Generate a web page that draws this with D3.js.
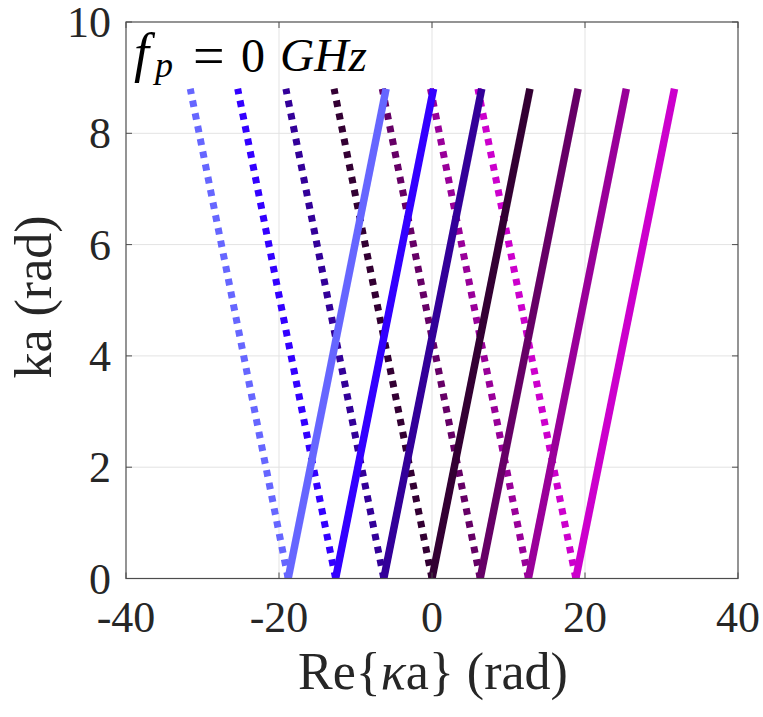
<!DOCTYPE html>
<html>
<head>
<meta charset="utf-8">
<script src="https://cdn.jsdelivr.net/npm/d3@7"></script>
<style>
  body { margin: 0; background: #fff; }
  svg { display: block; }
</style>
</head>
<body>
<div id="chart"></div>
<script>
// Данные
const kaRange = [0, 8.8];
const lineColors = ["#6666ff", "#3300ff", "#330099", "#330033", "#660066", "#990099", "#cc00cc"];
const solidBottom = [-18.8, -12.6, -6.3, 0, 6.3, 12.6, 18.8];
const solidTop = [-6.0, 0.2, 6.5, 12.8, 19.1, 25.4, 31.7];
const dottedBottom = [-18.8, -12.6, -6.3, 0, 6.3, 12.6, 18.8];
const dottedTop = [-31.6, -25.4, -19.1, -12.8, -6.5, -0.2, 6.0];
const xTicks = [-40, -20, 0, 20, 40];
const yTicks = [0, 2, 4, 6, 8, 10];

const serif = "'Liberation Serif', 'Times New Roman', Tinos, 'DejaVu Serif', serif";

const width = 763, height = 717;
const margin = { top: 22, right: 25, bottom: 138.5, left: 126 };
const w = width - margin.left - margin.right;
const h = height - margin.top - margin.bottom;

const svg = d3.select("#chart").append("svg")
    .attr("width", width)
    .attr("height", height);

const g = svg.append("g")
    .attr("transform", `translate(${margin.left},${margin.top})`);

const x = d3.scaleLinear().domain([-40, 40]).range([0, w]);
const y = d3.scaleLinear().domain([0, 10]).range([h, 0]);

// сетка
g.append("g").selectAll("line")
    .data(xTicks.slice(1, -1))
    .join("line")
    .attr("x1", d => x(d)).attr("x2", d => x(d))
    .attr("y1", 0).attr("y2", h)
    .attr("stroke", "#e3e3e3").attr("stroke-width", 1);
g.append("g").selectAll("line")
    .data(yTicks.slice(1, -1))
    .join("line")
    .attr("y1", d => y(d)).attr("y2", d => y(d))
    .attr("x1", 0).attr("x2", w)
    .attr("stroke", "#e3e3e3").attr("stroke-width", 1);

// линии
g.append("clipPath").attr("id", "clip")
    .append("rect").attr("width", w).attr("height", h);
const lines = g.append("g").attr("clip-path", "url(#clip)");
const line = d3.line().x(d => x(d[0])).y(d => y(d[1]));

const dotted = lineColors.map((c, i) => ({ c, pts: [[dottedBottom[i], kaRange[0]], [dottedTop[i], kaRange[1]]] }));
const solid = lineColors.map((c, i) => ({ c, pts: [[solidBottom[i], kaRange[0]], [solidTop[i], kaRange[1]]] }));

lines.selectAll(".dotted")
    .data(dotted)
    .join("path")
    .attr("class", "dotted")
    .attr("d", d => line(d.pts))
    .attr("fill", "none")
    .attr("stroke", d => d.c)
    .attr("stroke-width", 7)
    .attr("stroke-dasharray", "6.5,6.5");

lines.selectAll(".solid")
    .data(solid)
    .join("path")
    .attr("class", "solid")
    .attr("d", d => line(d.pts))
    .attr("fill", "none")
    .attr("stroke", d => d.c)
    .attr("stroke-width", 7.5);

// рамка и засечки
const axisColor = "#4d4d4d";
g.append("rect")
    .attr("width", w).attr("height", h)
    .attr("fill", "none").attr("stroke", axisColor).attr("stroke-width", 1.2);

const tickLen = 6;
xTicks.forEach(t => {
    g.append("line").attr("x1", x(t)).attr("x2", x(t)).attr("y1", h).attr("y2", h - tickLen)
        .attr("stroke", axisColor);
    g.append("line").attr("x1", x(t)).attr("x2", x(t)).attr("y1", 0).attr("y2", tickLen)
        .attr("stroke", axisColor);
    g.append("text")
        .attr("x", x(t)).attr("y", h + 53)
        .attr("text-anchor", "middle")
        .attr("font-family", serif)
        .attr("font-size", 44)
        .attr("fill", "#262626")
        .text(t);
});
yTicks.forEach(t => {
    g.append("line").attr("x1", 0).attr("x2", tickLen).attr("y1", y(t)).attr("y2", y(t))
        .attr("stroke", axisColor);
    g.append("line").attr("x1", w).attr("x2", w - tickLen).attr("y1", y(t)).attr("y2", y(t))
        .attr("stroke", axisColor);
    g.append("text")
        .attr("x", -15).attr("y", y(t) + 15)
        .attr("text-anchor", "end")
        .attr("font-family", serif)
        .attr("font-size", 44)
        .attr("fill", "#262626")
        .text(t);
});

// подписи осей
const xl = svg.append("text")
    .attr("x", 433).attr("y", 689)
    .attr("text-anchor", "middle")
    .attr("font-family", serif)
    .attr("font-size", 52)
    .attr("fill", "#262626");
xl.append("tspan").text("Re{");
xl.append("tspan").attr("font-style", "italic").text("κ");
xl.append("tspan").text("a} (rad)");

svg.append("text")
    .attr("transform", "translate(51,297) rotate(-90)")
    .attr("text-anchor", "middle")
    .attr("font-family", serif)
    .attr("font-size", 52)
    .attr("fill", "#262626")
    .text("ka (rad)");

// аннотация f_p = 0 GHz (отдельные куски, чтобы попасть в позиции)
const ann = svg.append("g")
    .attr("font-family", serif)
    .attr("fill", "#000");
ann.append("text").attr("x", 134).attr("y", 71)
    .attr("font-size", 54).attr("font-style", "italic").text("f");
ann.append("text").attr("x", 155).attr("y", 77)
    .attr("font-size", 36).attr("font-style", "italic").text("p");
ann.append("text").attr("x", 193).attr("y", 75)
    .attr("font-size", 56).text("=");
ann.append("text").attr("x", 241).attr("y", 72)
    .attr("font-size", 48).text("0");
ann.append("text").attr("x", 280).attr("y", 71)
    .attr("font-size", 46).attr("font-style", "italic")
    .attr("textLength", 87).attr("lengthAdjust", "spacingAndGlyphs").text("GHz");
</script>
</body>
</html>
